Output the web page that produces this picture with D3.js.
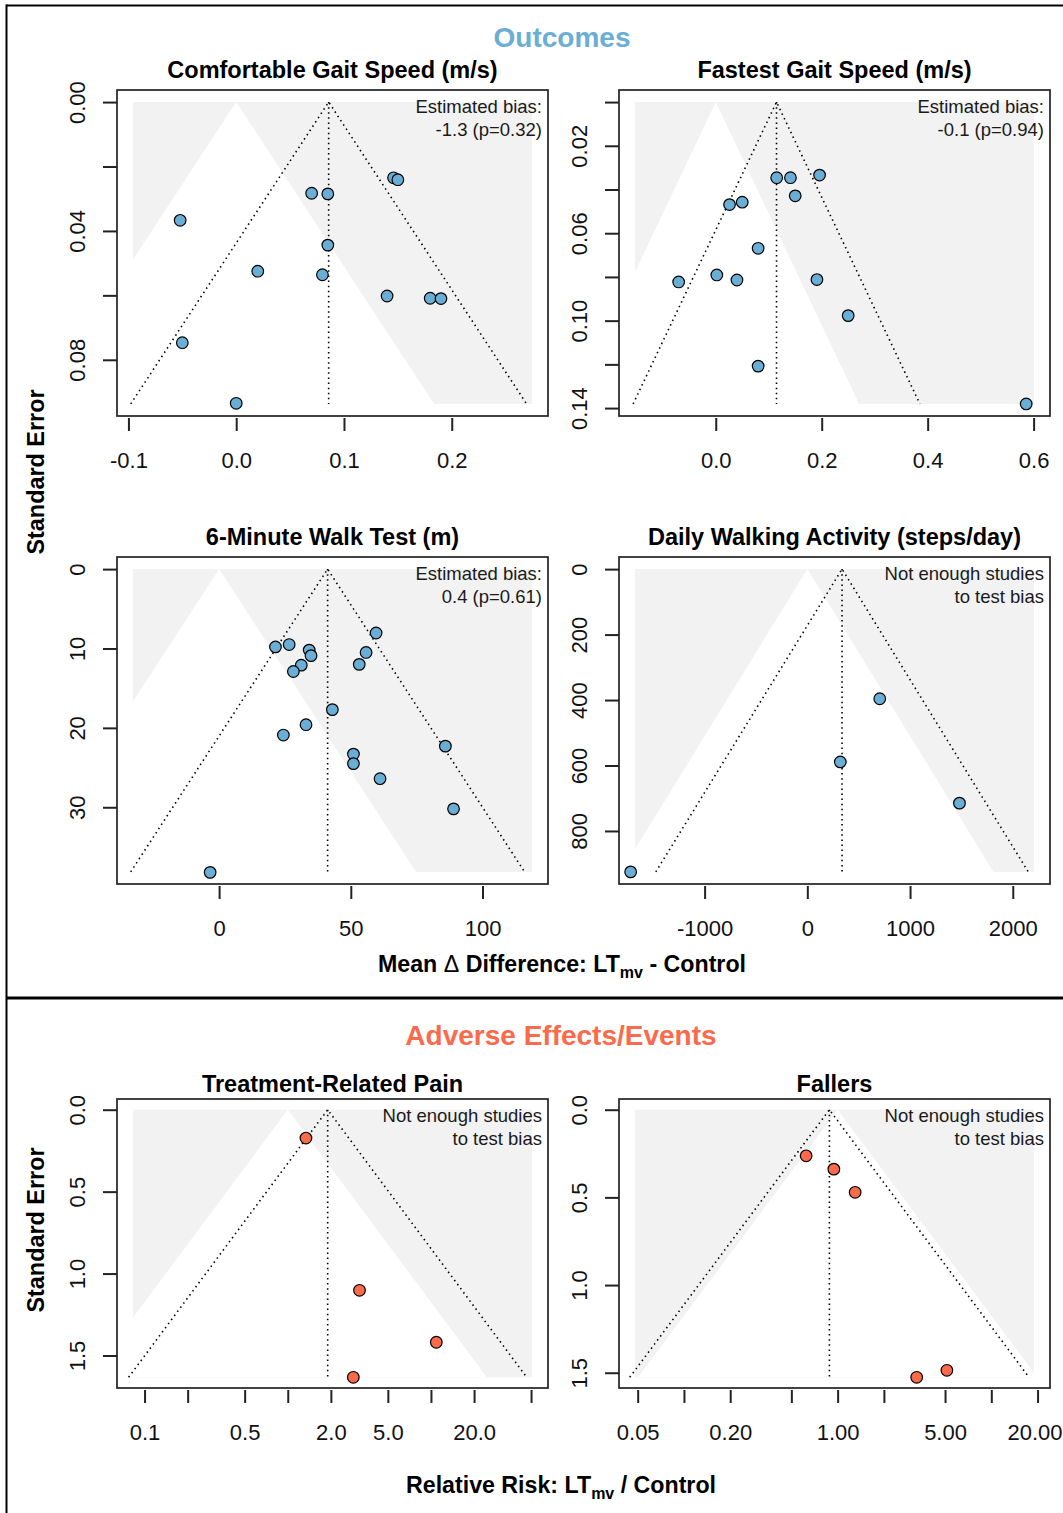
<!DOCTYPE html>
<html><head><meta charset="utf-8">
<script src="https://cdn.jsdelivr.net/npm/d3@7"></script>
<style>
html,body{margin:0;padding:0;background:#fff;}
svg{display:block;font-family:"Liberation Sans",Arial,Helvetica,sans-serif;}
</style></head><body>
<svg id="chart" width="1063" height="1513"></svg>
<script>
// ---------------- data ----------------
const sectionTitles = ["Outcomes", "Adverse Effects/Events"];
const panelTitles = ["Comfortable Gait Speed (m/s)", "Fastest Gait Speed (m/s)",
  "6-Minute Walk Test (m)", "Daily Walking Activity (steps/day)",
  "Treatment-Related Pain", "Fallers"];
const biasNotes = [
  ["Estimated bias:", "-1.3 (p=0.32)"],
  ["Estimated bias:", "-0.1 (p=0.94)"],
  ["Estimated bias:", "0.4 (p=0.61)"],
  ["Not enough studies", "to test bias"],
  ["Not enough studies", "to test bias"],
  ["Not enough studies", "to test bias"]];

// effect sizes (mean differences or relative risks) and standard errors
const comfortEffect = [-0.052, -0.050, 0.000, 0.020, 0.070, 0.085, 0.085, 0.080, 0.146, 0.150, 0.140, 0.180, 0.190];
const comfortSE     = [0.0367, 0.0747, 0.0935, 0.0525, 0.0283, 0.0285, 0.0444, 0.0536, 0.0235, 0.0241, 0.0602, 0.0609, 0.0610];
const fastestEffect = [-0.070, 0.002, 0.040, 0.026, 0.050, 0.080, 0.080, 0.115, 0.141, 0.196, 0.150, 0.191, 0.250, 0.586];
const fastestSE     = [0.0823, 0.0791, 0.0814, 0.0469, 0.0458, 0.0669, 0.1208, 0.0346, 0.0346, 0.0334, 0.0429, 0.0812, 0.0977, 0.1381];
const walk6Effect   = [-3.4, 21.4, 26.6, 34.2, 34.9, 31.2, 28.2, 43.0, 33.0, 24.4, 59.6, 55.8, 53.2, 51.0, 51.0, 61.1, 85.9, 89.0];
const walk6SE       = [38.2, 9.8, 9.5, 10.2, 10.9, 12.1, 12.9, 17.7, 19.6, 20.9, 8.05, 10.5, 12.0, 23.3, 24.5, 26.4, 22.3, 30.2];
const stepsEffect   = [-1720, 321, 705, 1481];
const stepsSE       = [925, 589, 396, 715];
const painRR        = [1.34, 3.17, 10.9, 2.87];
const painSE        = [0.173, 1.102, 1.419, 1.633];
const fallersRR     = [0.624, 0.945, 1.30, 3.27, 5.14];
const fallersSE     = [0.263, 0.339, 0.471, 1.526, 1.486];

const effects = [comfortEffect, fastestEffect, walk6Effect, stepsEffect, painRR, fallersRR];
const ses     = [comfortSE, fastestSE, walk6SE, stepsSE, painSE, fallersSE];

// pooled estimates (funnel centre) and max SE (funnel base)
const pooledEstimates = [0.0858, 0.1147, 41.2, 338, 1.90, 0.884];
const seMaxima        = [0.0937, 0.1381, 38.14, 925, 1.633, 1.526];
// x limits of the plotting region (before the 4% axis expansion)
const xLimits = [[-0.0958, 0.2745], [-0.1525, 0.6008], [-32.7, 118.8], [-1678, 2207], [0.083, 50.8], [0.048, 18.97]];

const xTickValues = [
  [-0.1, 0.0, 0.1, 0.2],
  [0.0, 0.2, 0.4, 0.6],
  [0, 50, 100],
  [-1000, 0, 1000, 2000],
  [0.1, 0.2, 0.5, 1, 2, 5, 10, 20, 50],
  [0.05, 0.1, 0.2, 0.5, 1, 2, 5, 10, 20]];
const xTickLabels = [
  ["-0.1", "0.0", "0.1", "0.2"],
  ["0.0", "0.2", "0.4", "0.6"],
  ["0", "50", "100"],
  ["-1000", "0", "1000", "2000"],
  ["0.1", "", "0.5", "", "2.0", "5.0", "", "20.0", ""],
  ["0.05", "", "0.20", "", "1.00", "", "5.00", "", "20.00"]];
const yTickValues = [
  [0, 0.02, 0.04, 0.06, 0.08],
  [0, 0.02, 0.04, 0.06, 0.08, 0.10, 0.12, 0.14],
  [0, 10, 20, 30],
  [0, 200, 400, 600, 800],
  [0, 0.5, 1.0, 1.5],
  [0, 0.5, 1.0, 1.5]];
const yTickLabels = [
  ["0.00", "", "0.04", "", "0.08"],
  ["", "0.02", "", "0.06", "", "0.10", "", "0.14"],
  ["0", "10", "20", "30"],
  ["0", "200", "400", "600", "800"],
  ["0.0", "0.5", "1.0", "1.5"],
  ["0.0", "0.5", "1.0", "1.5"]];
const logScalePanels = [false, false, false, false, true, true];

// ---------------- layout / style ----------------
const W = 1063;
const cols = [{l: 117, r: 548}, {l: 619, r: 1050}];
const rows = [{t: 90, b: 416, title: 78}, {t: 557, b: 884, title: 545}, {t: 1099, b: 1388, title: 1092}];
const BLUE = "#6aaed6", ORANGE = "#fb6a4a", GREY = "#f2f2f2";

const svg = d3.select("#chart");

// frame
svg.append("line").attr("x1", 6).attr("x2", W).attr("y1", 5.5).attr("y2", 5.5).attr("stroke", "#000").attr("stroke-width", 2);
svg.append("line").attr("x1", 6.5).attr("x2", 6.5).attr("y1", 4.5).attr("y2", 1513).attr("stroke", "#000").attr("stroke-width", 2);
svg.append("line").attr("x1", 6).attr("x2", W).attr("y1", 998).attr("y2", 998).attr("stroke", "#000").attr("stroke-width", 3);

// section titles
svg.append("text").attr("x", 562).attr("y", 47).attr("text-anchor", "middle")
  .attr("font-size", 28).attr("font-weight", "bold").attr("fill", BLUE).text(sectionTitles[0]);
svg.append("text").attr("x", 561).attr("y", 1045).attr("text-anchor", "middle")
  .attr("font-size", 28).attr("font-weight", "bold").attr("fill", ORANGE).text(sectionTitles[1]);

// y labels
[[472], [1230]].forEach(([cy]) => {
  svg.append("text").attr("transform", `translate(44,${cy}) rotate(-90)`).attr("text-anchor", "middle")
    .attr("font-size", 23.4).attr("font-weight", "bold").text("Standard Error");
});

// x labels with subscript
function xLabel(cx, baseline, pre, post) {
  const t = svg.append("text").attr("x", cx).attr("y", baseline).attr("text-anchor", "middle")
    .attr("font-size", 23.2).attr("font-weight", "bold");
  pre.forEach(p => t.append("tspan").attr("font-weight", p.w || "bold").text(p.s));
  t.append("tspan").attr("font-size", 16).attr("dy", 6).text("mv");
  t.append("tspan").attr("dy", -6).text(post);
}
xLabel(562, 972, [{s: "Mean "}, {s: "\u0394", w: "normal"}, {s: " Difference: LT"}], " - Control");
xLabel(561, 1493, [{s: "Relative Risk: LT"}], " / Control");

// panels
function drawPanel(i) {
  const box = {l: cols[i % 2].l, r: cols[i % 2].r, t: rows[Math.floor(i / 2)].t, b: rows[Math.floor(i / 2)].b};
  const isLog = logScalePanels[i];
  const color = i < 4 ? BLUE : ORANGE;
  const [x0, x1] = xLimits[i];
  let xs;
  if (isLog) {
    const a = Math.log(x0), b = Math.log(x1), e = (b - a) * 0.04;
    xs = d3.scaleLog().domain([Math.exp(a - e), Math.exp(b + e)]).range([box.l, box.r]);
  } else {
    const e = (x1 - x0) * 0.04;
    xs = d3.scaleLinear().domain([x0 - e, x1 + e]).range([box.l, box.r]);
  }
  const sm = seMaxima[i];
  const ys = d3.scaleLinear().domain([-0.04 * sm, 1.04 * sm]).range([box.t, box.b]);
  const shift = (c, k) => isLog ? c * Math.exp(k) : c + k;

  const g = svg.append("g");
  const clipId = "clip" + i;
  g.append("clipPath").attr("id", clipId).append("rect")
    .attr("x", xs(x0)).attr("y", ys(0)).attr("width", xs(x1) - xs(x0)).attr("height", ys(sm) - ys(0));
  g.append("rect").attr("x", xs(x0)).attr("y", ys(0)).attr("width", xs(x1) - xs(x0)).attr("height", ys(sm) - ys(0))
    .attr("fill", GREY);
  const nul = isLog ? 1 : 0;
  const tri = [[nul, 0], [shift(nul, -1.96 * sm), sm], [shift(nul, 1.96 * sm), sm]];
  g.append("path").attr("clip-path", `url(#${clipId})`)
    .attr("d", d3.line().x(d => xs(d[0])).y(d => ys(d[1]))(tri) + "Z").attr("fill", "#fff");

  // funnel
  const c = pooledEstimates[i];
  const funnel = [[shift(c, -1.96 * sm), sm], [c, 0], [shift(c, 1.96 * sm), sm]];
  g.append("path").attr("d", d3.line().x(d => xs(d[0])).y(d => ys(d[1]))(funnel))
    .attr("fill", "none").attr("stroke", "#000").attr("stroke-width", 1.6).attr("stroke-dasharray", "1.5,3.6");
  g.append("line").attr("x1", xs(c)).attr("x2", xs(c)).attr("y1", ys(0)).attr("y2", ys(sm))
    .attr("stroke", "#000").attr("stroke-width", 1.6).attr("stroke-dasharray", "1.5,3.6");

  // points
  g.selectAll("circle.pt").data(effects[i].map((v, j) => [v, ses[i][j]])).join("circle")
    .attr("class", "pt").attr("cx", d => xs(d[0])).attr("cy", d => ys(d[1])).attr("r", 5.8)
    .attr("fill", color).attr("stroke", "#000").attr("stroke-width", 1.2);

  // box
  g.append("rect").attr("x", box.l).attr("y", box.t).attr("width", box.r - box.l).attr("height", box.b - box.t)
    .attr("fill", "none").attr("stroke", "#222").attr("stroke-width", 1.7);

  // x axis
  const xa = g.append("g").attr("transform", `translate(0,${box.b + 2})`)
    .call(d3.axisBottom(xs).tickValues(xTickValues[i]).tickFormat((d, j) => xTickLabels[i][j])
      .tickSize(13).tickSizeOuter(0).tickPadding(21));
  xa.select(".domain").remove();
  xa.attr("font-size", null).attr("font-family", null);
  xa.selectAll("line").attr("stroke", "#222").attr("stroke-width", 2);
  xa.selectAll("text").attr("font-size", 22).attr("fill", "#111");
  // keep a label that would run past the right edge of the page inside it
  xa.selectAll(".tick").each(function (d) {
    const tx = xs(d), txt = d3.select(this).select("text");
    const w = txt.node().getComputedTextLength();
    if (tx + w / 2 > W - 1) txt.attr("text-anchor", "end").attr("x", W - 1 - tx);
  });

  // y axis
  const ya = g.append("g").attr("transform", `translate(${box.l},0)`)
    .call(d3.axisLeft(ys).tickValues(yTickValues[i]).tickFormat((d, j) => yTickLabels[i][j])
      .tickSize(14).tickSizeOuter(0));
  ya.select(".domain").remove();
  ya.attr("font-size", null).attr("font-family", null);
  ya.selectAll("line").attr("stroke", "#222").attr("stroke-width", 2);
  ya.selectAll("text").attr("x", 0).attr("y", 0).attr("dy", 0).attr("text-anchor", "middle")
    .attr("transform", "translate(-32,0) rotate(-90)").attr("font-size", 22).attr("fill", "#111");

  // title
  svg.append("text").attr("x", (box.l + box.r) / 2).attr("y", rows[Math.floor(i / 2)].title)
    .attr("text-anchor", "middle").attr("font-size", 23.5).attr("font-weight", "bold").text(panelTitles[i]);
  // bias note
  biasNotes[i].forEach((s, k) => {
    svg.append("text").attr("x", box.r - 6).attr("y", box.t + 22.5 + k * 23).attr("text-anchor", "end")
      .attr("font-size", 18.5).attr("fill", "#1a1a1a").text(s);
  });
}
for (let i = 0; i < 6; i++) drawPanel(i);
</script>
</body></html>
